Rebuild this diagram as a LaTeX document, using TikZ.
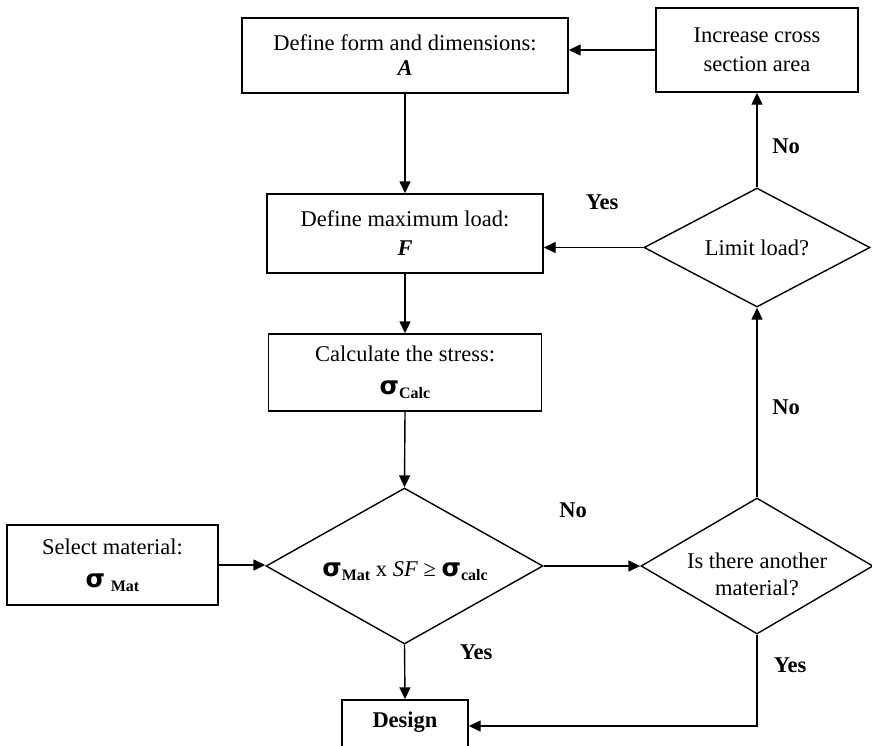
\documentclass[tikz,border=0pt]{standalone}
\usepackage{fontspec}
\setmainfont{Liberation Serif}
\newfontfamily\sigfont{DejaVu Sans}
\usetikzlibrary{shapes.geometric,arrows.meta}
\newcommand\sg{{\fontsize{25}{27}\sigfont\bfseries σ}}
\newcommand\sbs[1]{\raisebox{-4pt}{\fontsize{16}{16}\selectfont\bfseries #1}}
\begin{document}
\begin{tikzpicture}[x=1pt,y=-1pt, font=\fontsize{22.5}{27}\selectfont,
  box/.style={draw, line width=1.4pt, inner sep=0pt, align=center},
  dia/.style={draw, diamond, line width=1.4pt, inner sep=0pt},
  arr/.style={line width=1.4pt, -{Triangle[length=12pt,width=11pt]}},
  lbl/.style={font=\fontsize{22.5}{27}\selectfont\bfseries}]
\useasboundingbox (0,0) rectangle (872,745);

\node[box, minimum width=326pt, minimum height=75pt] (b1) at (405,55.5) {Define form and dimensions:\\[-2pt]\textbf{\textit{A}}};
\node[box, minimum width=202pt, minimum height=84pt] (inc) at (757,50) {Increase cross\\[2pt]section area};
\node[box, minimum width=276pt, minimum height=79pt] (b2) at (405,233.5) {Define maximum load:\\[2pt]\textbf{\textit{F}}};
\node[box, minimum width=273pt, minimum height=77pt] (b3) at (405,372.5) {Calculate the stress:\\[6pt]\sg\sbs{Calc}};
\node[box, minimum width=211pt, minimum height=80pt] (sel) at (112.5,565) {Select material:\\[6pt]\sg\ \sbs{Mat}};

\node[dia, shape aspect=1.9, minimum width=226pt, minimum height=119pt] (lim) at (757,247.5) {Limit load?};
\node[dia, shape aspect=1.77, minimum width=277pt, minimum height=156pt] (main) at (404.5,566) {};
\node (maintxt) at (405,571) {\sg\sbs{Mat} x \textit{SF} ≥ \sg\sbs{calc}};
\node[dia, shape aspect=1.7, minimum width=232pt, minimum height=136pt] (oth) at (757,566) {};
\node[align=center] (othtxt) at (757,574) {Is there another\\material?};

\node[draw, line width=1.4pt, inner sep=0pt, minimum width=126pt, text height=27pt, text depth=60pt, anchor=base, font=\fontsize{22.5}{27}\selectfont\bfseries] (des) at (405,727) {Design};
\coordinate (dy) at (405,726);

\draw[arr] (inc.west) -- (inc.west -| b1.east);
\draw[arr] (b1.south) -- (b2.north);
\draw[arr] (b2.south) -- (b3.north);
\draw[arr] (b3.south) -- (main.north);
\draw[arr] (main.south) -- (des.north);
\draw[arr] (sel.east) -- (sel.east -| main.west);
\draw[arr] (main.east) -- (main.east -| oth.west);
\draw[arr] (oth.north) -- (lim.south);
\draw[arr] (lim.north) -- (inc.south);
\draw[arr] (lim.west) -- (lim.west -| b2.east);
\draw[arr] (oth.south) |- (dy -| des.east);

\node[lbl] (l1) at (786,146) {No};
\node[lbl] (l2) at (602,202) {Yes};
\node[lbl] (l3) at (786,407) {No};
\node[lbl] (l4) at (573,510) {No};
\node[lbl] (l5) at (476,652) {Yes};
\node[lbl] (l6) at (790,665) {Yes};
\end{tikzpicture}
\end{document}
